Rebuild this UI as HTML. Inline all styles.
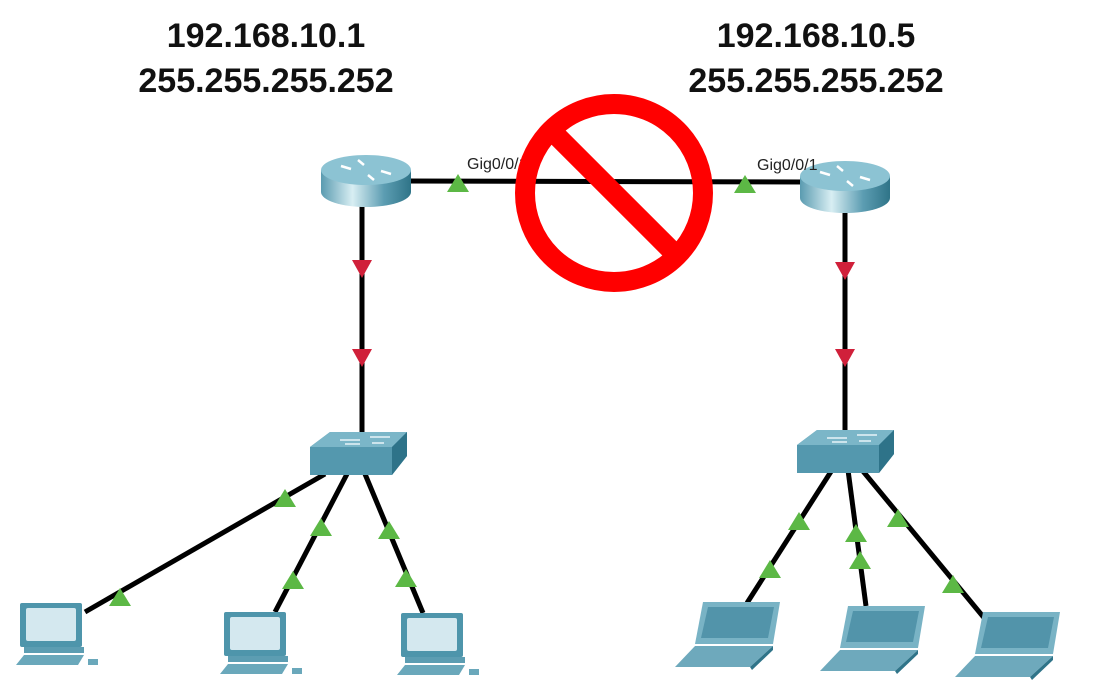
<!DOCTYPE html>
<html><head><meta charset="utf-8"><style>
html,body{margin:0;padding:0;background:#fff;}
svg{display:block;}
text{font-family:"Liberation Sans",sans-serif;}
</style></head><body>
<svg width="1112" height="691" viewBox="0 0 1112 691" xmlns="http://www.w3.org/2000/svg">
<defs>
<linearGradient id="rg" x1="0" x2="1" y1="0" y2="0">
<stop offset="0" stop-color="#5a9bb0"/><stop offset="0.35" stop-color="#d8eef3"/><stop offset="0.7" stop-color="#5c9db2"/><stop offset="1" stop-color="#2f7488"/>
</linearGradient>
<g id="router">
<path d="M-45,-10 L-45,12 A45,15 0 0 0 45,12 L45,-10 Z" fill="url(#rg)"/>
<ellipse cx="0" cy="-10" rx="45" ry="15" fill="#8cc3d3"/>
<path d="M-25,-14 l10,3 M25,-6 l-10,-3 M-8,-20 l6,5 M8,0 l-6,-5" stroke="#fff" stroke-width="2.5"/>
</g>
<g id="switch">
<path d="M0,15 L20,0 L97,0 L97,24 L82,43 L0,43 Z" fill="#5498ae"/>
<path d="M0,15 L20,0 L97,0 L82,15 Z" fill="#7bb6c8"/>
<path d="M82,15 L97,0 L97,24 L82,43 Z" fill="#2e7389"/>
<path d="M30,8 h20 M60,5 h20 M35,12 h15 M62,11 h12" stroke="#e8f4f8" stroke-width="1.5"/>
</g>
<g id="pc">
<rect x="4" y="0" width="62" height="44" rx="2" fill="#4e95ab"/>
<rect x="10" y="5" width="50" height="33" rx="2" fill="#d4e8ef"/>
<rect x="8" y="44" width="60" height="6" fill="#5c9db2"/>
<path d="M0,62 L8,52 L68,52 L62,62 Z" fill="#6aa8bb"/>
<rect x="72" y="56" width="10" height="6" fill="#6aa8bb"/>
</g>
<g id="lap">
<path d="M28,0 L105,0 L98,42 L20,42 Z" fill="#79b3c5"/>
<path d="M33,5 L99,5 L93,36 L26,36 Z" fill="#5294aa"/>
<path d="M0,65 L20,44 L98,44 L75,65 Z" fill="#6ea9bc"/>
<path d="M75,65 L98,44 L98,48 L77,68 Z" fill="#2f7489"/>
</g>
<path id="gt" d="M0,-11 L11,7 L-11,7 Z" fill="#5cb845"/>
<path id="rt" d="M-10,-8 L10,-8 L0,10 Z" fill="#d0203a"/>
</defs>

<text x="266" y="47" font-size="34" font-weight="bold" text-anchor="middle" fill="#111">192.168.10.1</text>
<text x="266" y="92" font-size="34" font-weight="bold" text-anchor="middle" fill="#111">255.255.255.252</text>
<text x="816" y="47" font-size="34" font-weight="bold" text-anchor="middle" fill="#111">192.168.10.5</text>
<text x="816" y="92" font-size="34" font-weight="bold" text-anchor="middle" fill="#111">255.255.255.252</text>

<g stroke="#000" stroke-width="5" fill="none">
<line x1="405" y1="181" x2="805" y2="182"/>
<line x1="362" y1="205" x2="362" y2="440"/>
<line x1="845" y1="205" x2="845" y2="435"/>
<line x1="325" y1="474" x2="85" y2="612"/>
<line x1="347" y1="474" x2="275" y2="612"/>
<line x1="365" y1="474" x2="423" y2="613"/>
<line x1="832" y1="470" x2="747" y2="603"/>
<line x1="848" y1="470" x2="866" y2="606"/>
<line x1="862" y1="470" x2="990" y2="625"/>
</g>

<use href="#router" x="366" y="180"/>
<use href="#router" x="845" y="186"/>
<use href="#switch" x="310" y="432"/>
<use href="#switch" x="797" y="430"/>
<use href="#pc" x="16" y="603"/>
<use href="#pc" x="220" y="612"/>
<use href="#pc" x="397" y="613"/>
<use href="#lap" x="675" y="602"/>
<use href="#lap" x="820" y="606"/>
<use href="#lap" x="955" y="612"/>

<use href="#gt" x="458" y="185"/>
<use href="#gt" x="745" y="186"/>
<use href="#rt" x="362" y="268"/>
<use href="#rt" x="362" y="357"/>
<use href="#rt" x="845" y="270"/>
<use href="#rt" x="845" y="357"/>
<use href="#gt" x="285" y="500"/>
<use href="#gt" x="120" y="599"/>
<use href="#gt" x="321" y="529"/>
<use href="#gt" x="293" y="582"/>
<use href="#gt" x="389" y="532"/>
<use href="#gt" x="406" y="580"/>
<use href="#gt" x="799" y="523"/>
<use href="#gt" x="770" y="571"/>
<use href="#gt" x="856" y="535"/>
<use href="#gt" x="860" y="562"/>
<use href="#gt" x="898" y="520"/>
<use href="#gt" x="953" y="586"/>

<text x="467" y="169" font-size="16" fill="#222">Gig0/0/1</text>
<text x="757" y="170" font-size="16" fill="#222">Gig0/0/1</text>

<circle cx="614" cy="193" r="89" fill="none" stroke="#ff0000" stroke-width="20"/>
<line x1="551" y1="130" x2="677" y2="256" stroke="#ff0000" stroke-width="20"/>
</svg>
</body></html>
